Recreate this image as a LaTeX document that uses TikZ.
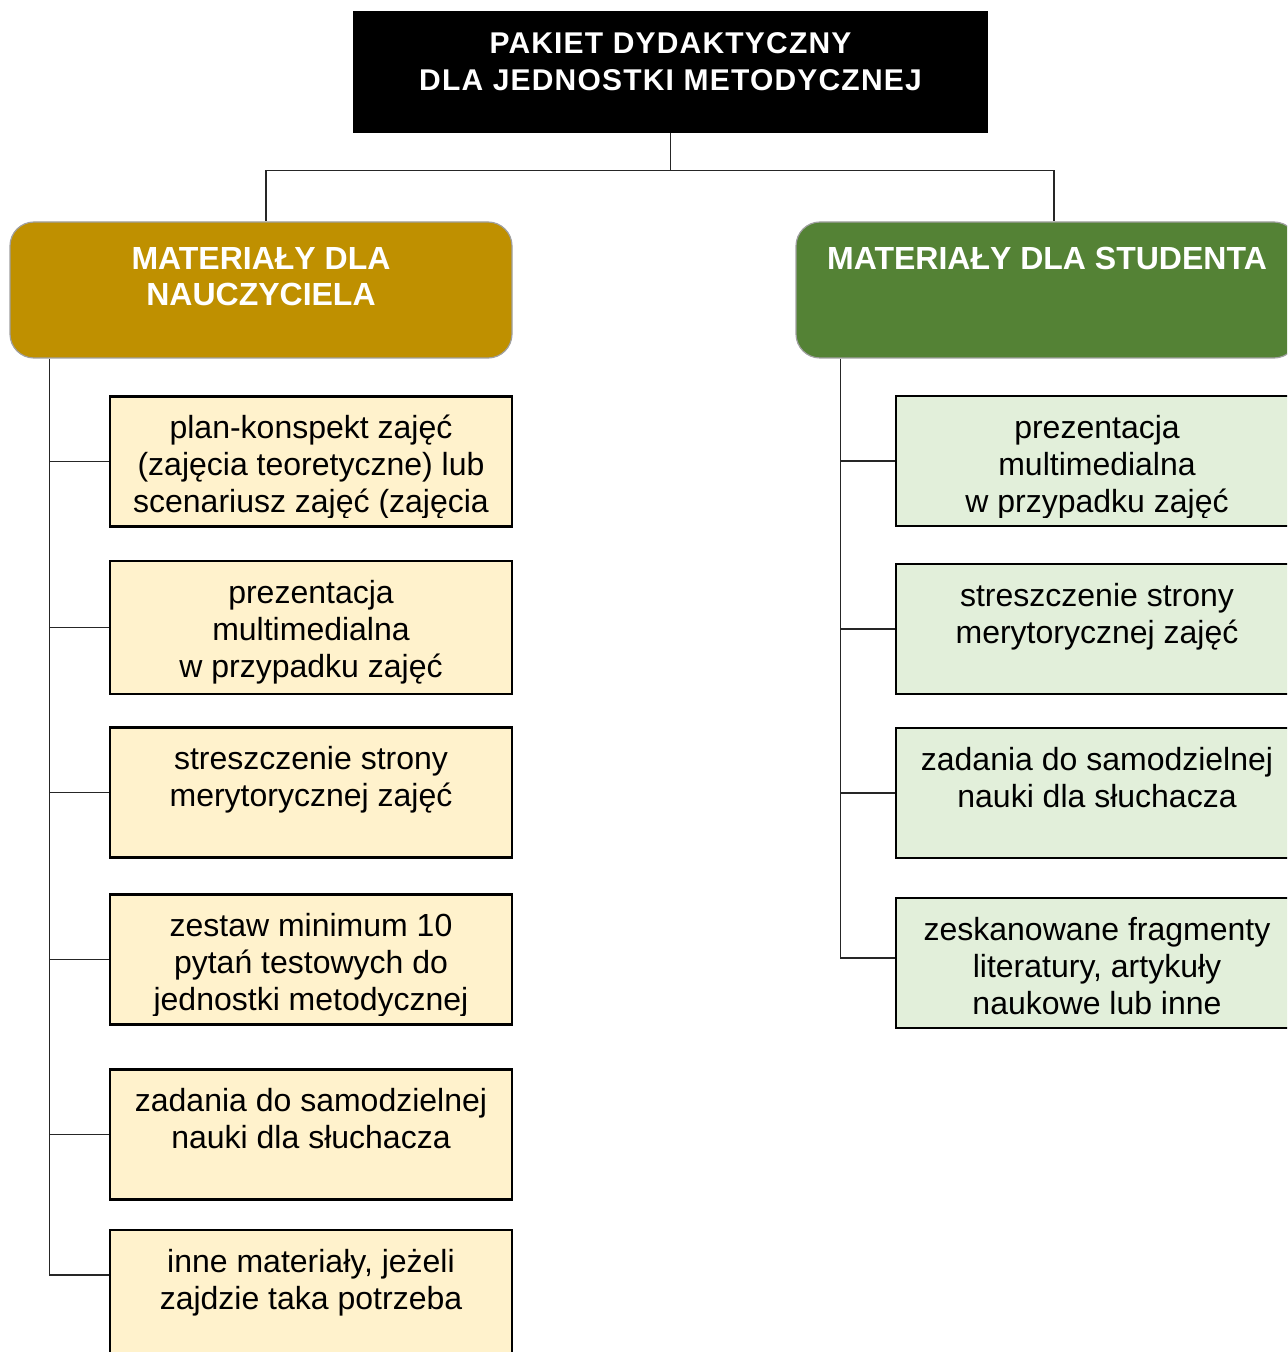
\documentclass[tikz,border=0pt]{standalone}
\usepackage{fontspec}
\setmainfont{Liberation Sans}
\newfontfamily\titlefont[LetterSpace=4]{Liberation Sans}
\definecolor{gold}{HTML}{BF9000}
\definecolor{leaf}{HTML}{548235}
\definecolor{cream}{HTML}{FFF2CC}
\definecolor{mint}{HTML}{E2EFDA}
\definecolor{hdrline}{HTML}{A0A0A0}
\newcommand\putboxtext[3]{%
  \begin{scope}
    \clip ([yshift=-1pt]#1.north west) rectangle ([yshift=5pt]#1.south east);
    \node[txt] (#2) at ([yshift=-8.5pt]#1.north) {\rule{0pt}{13pt}#3};
  \end{scope}}
\begin{document}
\begin{tikzpicture}[x=0.5pt,y=-0.5pt,
  boxstyle/.style={draw=black, line width=1.25pt, minimum width=201pt, minimum height=65pt, inner sep=0pt},
  tbox/.style={boxstyle, fill=cream},
  sbox/.style={boxstyle, fill=mint},
  hdr/.style={draw=hdrline, line width=0.6pt, rounded corners=12pt, minimum width=251pt, minimum height=68pt, inner sep=0pt},
  txt/.style={anchor=north, align=center, inner sep=0pt, font=\fontsize{16}{18.5}\selectfont},
  htxt/.style={anchor=north, align=center, inner sep=0pt, text=white, font=\fontsize{16}{18}\selectfont\bfseries},
  ttxt/.style={anchor=north, align=center, inner sep=0pt, text=white, font=\titlefont\fontsize{15}{18.5}\selectfont\bfseries},
  link/.style={draw=black!85, line width=0.65pt},
]
\useasboundingbox (0,0) rectangle (1287,1352);
\clip (0,0) rectangle (1287,1352);

% title
\node[fill=black, minimum width=317.5pt, minimum height=61pt, inner sep=0pt] (title) at (670.5,72) {};
\node[ttxt] (titletext) at ([yshift=-8.5pt]title.north) {\rule{0pt}{13pt}PAKIET DYDAKTYCZNY\\DLA JEDNOSTKI METODYCZNEJ};

% headers
\node[hdr, fill=gold] (lh) at (261,290) {};
\node[htxt] (lht) at ([yshift=-10.8pt]lh.north) {\rule{0pt}{13pt}MATERIAŁY DLA\\NAUCZYCIELA};
\node[hdr, fill=leaf] (rh) at (1047,290) {};
\node[htxt] (rht) at ([yshift=-10.8pt]rh.north) {\rule{0pt}{13pt}MATERIAŁY DLA STUDENTA};

% connectors from title
\draw[link] (title.south) -- ++(0,37) -| ([xshift=2.5pt]lh.north);
\draw[link] (title.south) -- ++(0,37) -| ([xshift=3.5pt]rh.north);

% left boxes
\node[tbox] (b1) at (311,461.5) {};
\node[tbox, minimum height=66.5pt] (b2) at (311,627.5) {};
\node[tbox] (b3) at (311,792.5) {};
\node[tbox] (b4) at (311,959.5) {};
\node[tbox] (b5) at (311,1134.5) {};
\node[tbox] (b6) at (311,1295) {};

\putboxtext{b1}{t1}{plan-konspekt zajęć\\(zajęcia teoretyczne) lub\\scenariusz zajęć (zajęcia\\praktyczne)}
\putboxtext{b2}{t2}{prezentacja\\multimedialna\\w przypadku zajęć}
\putboxtext{b3}{t3}{streszczenie strony\\merytorycznej zajęć}
\putboxtext{b4}{t4}{zestaw minimum 10\\pytań testowych do\\jednostki metodycznej}
\putboxtext{b5}{t5}{zadania do samodzielnej\\nauki dla słuchacza}
\putboxtext{b6}{t6}{inne materiały, jeżeli\\zajdzie taka potrzeba}

% right boxes
\node[sbox] (r1) at (1097,461) {};
\node[sbox] (r2) at (1097,629) {};
\node[sbox] (r3) at (1097,793) {};
\node[sbox] (r4) at (1097,963) {};

\putboxtext{r1}{u1}{prezentacja\\multimedialna\\w przypadku zajęć}
\putboxtext{r2}{u2}{streszczenie strony\\merytorycznej zajęć}
\putboxtext{r3}{u3}{zadania do samodzielnej\\nauki dla słuchacza}
\putboxtext{r4}{u4}{zeskanowane fragmenty\\literatury, artykuły\\naukowe lub inne}

% left trunk and branches
\coordinate (lt) at ([xshift=20pt]lh.south west);
\draw[link] (lt) |- ([yshift=10pt]b6.west);
\draw[link] (lt |- b1.west) -- (b1.west);
\draw[link] (lt |- b2.west) -- (b2.west);
\draw[link] (lt |- b3.west) -- (b3.west);
\draw[link] (lt |- b4.west) -- (b4.west);
\draw[link] (lt |- b5.west) -- (b5.west);

% right trunk and branches
\coordinate (rt) at ([xshift=22.5pt]rh.south west);
\draw[link] (rt) |- ([yshift=2.5pt]r4.west);
\draw[link] (rt |- r1.west) -- (r1.west);
\draw[link] (rt |- r2.west) -- (r2.west);
\draw[link] (rt |- r3.west) -- (r3.west);
\end{tikzpicture}
\end{document}
